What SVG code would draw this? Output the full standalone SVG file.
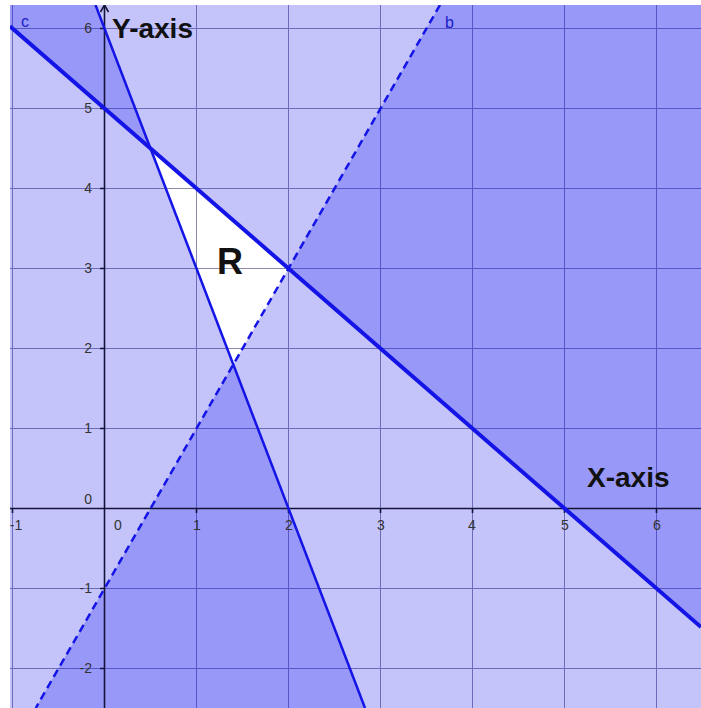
<svg xmlns="http://www.w3.org/2000/svg" width="701" height="708" viewBox="0 0 701 708">
  <style>
    .shade { fill: rgb(20,20,240); fill-opacity: 0.25; stroke: none; }
    .grid { stroke: #8a8aa8; stroke-width: 1; fill: none; }
    .axis { stroke: #14143a; stroke-width: 1.6; fill: none; }
    .tick { font-family: "Liberation Sans", Arial, sans-serif; font-size: 14px; fill: #333; }
    .big { font-family: "Liberation Sans", Arial, sans-serif; font-weight: bold; fill: #111; }
    .lname { font-family: "Liberation Sans", Arial, sans-serif; font-size: 16px; fill: #2020c8; }
    .ln { stroke: #1414e6; fill: none; }
  </style>
  <defs>
    <clipPath id="plot">
      <rect x="10" y="5" width="691" height="703"/>
    </clipPath>
  </defs>
  <rect x="0" y="0" width="701" height="708" fill="#ffffff"/>
  <g clip-path="url(#plot)">
    <rect x="10" y="5" width="691" height="703" fill="#ffffff"/>
    <g id="grid">
      <path class="grid" d="M12.5,5V708 M196.5,5V708 M288.5,5V708 M380.5,5V708 M472.5,5V708 M564.5,5V708 M656.5,5V708 M10,28.5H701 M10,108.5H701 M10,188.5H701 M10,268.5H701 M10,348.5H701 M10,428.5H701 M10,588.5H701 M10,668.5H701"/>
    </g>
    <g id="regions">
      <polygon id="above-c" class="shade" points="-79.5,-51.5 840.5,748.5 840.5,-51.5"/>
      <polygon id="left-a" class="shade" points="43.2,-131.5 411.2,828.5 -100,828.5 -100,-131.5"/>
      <polygon id="below-b" class="shade" points="518.5,-131.5 -33.5,828.5 900,828.5 900,-131.5"/>
    </g>
    <g id="axes">
      <path class="axis" d="M10,508.5H701 M104.5,5V708"/>
      <path class="axis" d="M100.5,12 L104.5,5 L108.5,12"/>
      <path class="axis" stroke-width="1" d="M100,28.5H104.5 M100,108.5H104.5 M100,188.5H104.5 M100,268.5H104.5 M100,348.5H104.5 M100,428.5H104.5 M100,588.5H104.5 M100,668.5H104.5 M12.5,508.5V513 M196.5,508.5V513 M288.5,508.5V513 M380.5,508.5V513 M472.5,508.5V513 M564.5,508.5V513 M656.5,508.5V513"/>
    </g>
    <g id="connectors">
      <line id="line-c" class="ln" stroke-width="4" x1="10" y1="26.3" x2="701" y2="627.1"/>
      <line id="line-a" class="ln" stroke-width="2.5" x1="95.5" y1="5" x2="365" y2="708"/>
      <line id="line-b" class="ln" stroke-width="2.5" stroke-dasharray="8 5" x1="440" y1="5" x2="35.8" y2="708"/>
    </g>
  </g>
  <g id="tick-labels">
    <g text-anchor="end">
      <text class="tick" x="92" y="33">6</text>
      <text class="tick" x="92" y="113">5</text>
      <text class="tick" x="92" y="193">4</text>
      <text class="tick" x="92" y="273">3</text>
      <text class="tick" x="92" y="353">2</text>
      <text class="tick" x="92" y="433">1</text>
      <text class="tick" x="92" y="504">0</text>
      <text class="tick" x="92" y="593">-1</text>
      <text class="tick" x="92" y="673">-2</text>
    </g>
    <g text-anchor="middle">
      <text class="tick" x="16" y="530">-1</text>
      <text class="tick" x="118" y="530">0</text>
      <text class="tick" x="197" y="530">1</text>
      <text class="tick" x="289" y="530">2</text>
      <text class="tick" x="381" y="530">3</text>
      <text class="tick" x="472" y="530">4</text>
      <text class="tick" x="565" y="530">5</text>
      <text class="tick" x="657" y="530">6</text>
    </g>
  </g>
  <g id="label-c"><text class="lname" x="21" y="27">c</text></g>
  <g id="label-b"><text class="lname" x="445" y="28">b</text></g>
  <g id="label-yaxis"><text class="big" font-size="28" x="112" y="38">Y-axis</text></g>
  <g id="label-xaxis"><text class="big" font-size="28" x="587" y="487">X-axis</text></g>
  <g id="label-R"><text class="big" font-size="36" x="217" y="274">R</text></g>
</svg>
